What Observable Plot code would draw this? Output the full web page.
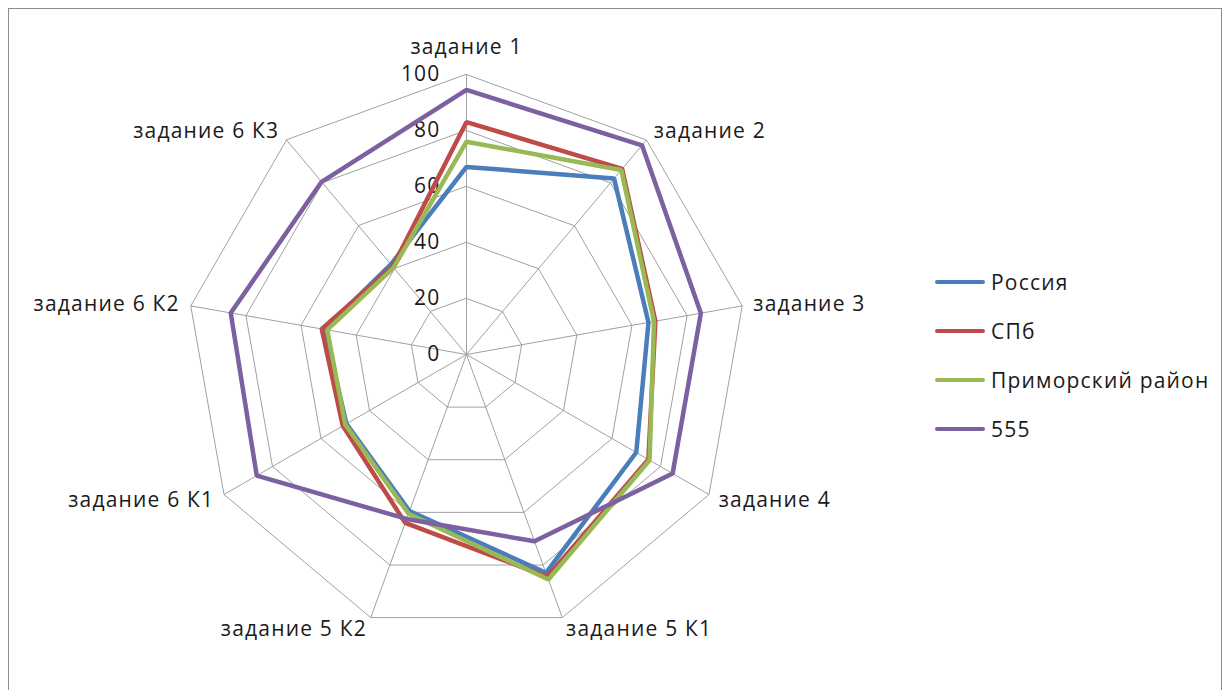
<!DOCTYPE html>
<html>
<head>
<meta charset="utf-8">
<script src="https://cdn.jsdelivr.net/npm/d3@7"></script>
<script src="https://cdn.jsdelivr.net/npm/@observablehq/plot@0.6"></script>
<style>
  html, body { margin: 0; padding: 0; background: #fff; width: 1230px; height: 690px; overflow: hidden; }
  #frame { position: absolute; left: 8px; top: 8px; width: 1214px; height: 700px; border: 1px solid #8c8c8c; box-sizing: border-box; }
  #chart { position: absolute; left: 0; top: 0; }
  #legend { position: absolute; left: 935px; top: 257px; font-family: "Open Sans", sans-serif; font-size: 21px; color: #1a1a1a; letter-spacing: 1.2px; }
  .item { display: flex; align-items: center; height: 49px; }
  .sw { width: 50px; height: 4px; border-radius: 2px; margin-right: 6px; }
</style>
</head>
<body>
<div id="frame"></div>
<div id="chart"></div>
<div id="legend"></div>
<script>
const categories = ["задание 1", "задание 2", "задание 3", "задание 4", "задание 5 К1", "задание 5 К2", "задание 6 К1", "задание 6 К2", "задание 6 К3"];
const seriesNames = ["Россия", "СПб", "Приморский район", "555"];
const russia    = [67,   82,   66,   70,   83,   59.5, 49.5, 51.5, 42];
const spb       = [83,   86.5, 68.5, 75,   84.5, 64,   51,   52.5, 41];
const primorsky = [76,   86,   68,   75.5, 85.5, 60.5, 50,   50.5, 40.5];
const s555      = [94.5, 97.5, 85,   85,   71,   62.5, 86.5, 85.5, 80.5];
const tickValues = [0, 20, 40, 60, 80, 100];
const colors = ["#4A7EBB", "#BE4B48", "#98B954", "#7D60A0"];

const seriesValues = [russia, spb, primorsky, s555];
const n = categories.length;
const angle = i => (2 * Math.PI * i) / n;
const px = (v, i) => v * Math.sin(angle(i));
const py = (v, i) => v * Math.cos(angle(i));

const rows = [];
seriesNames.forEach((s, k) => {
  categories.forEach((c, i) => rows.push({series: s, cat: c, i, value: seriesValues[k][i]}));
});

const gridRows = [];
tickValues.filter(t => t > 0).forEach(t => {
  categories.forEach((c, i) => gridRows.push({level: t, i}));
});

const catRows = categories.map((c, i) => ({cat: c, i}));
const tickRows = tickValues.map(v => ({v, label: String(v)}));
const labelR = 104;
const font = {fontSize: 21, fontFamily: "Open Sans, sans-serif", fill: "#1a1a1a"};

const labelMark = (filter, opts) => Plot.text(catRows.filter(filter), {
  x: d => px(labelR, d.i),
  y: d => py(labelR, d.i),
  text: "cat",
  ...font,
  ...opts
});

const chart = Plot.plot({
  width: 930,
  height: 690,
  marginLeft: 186,
  marginRight: 184,
  marginTop: 74,
  marginBottom: 56,
  x: {domain: [-100, 100], axis: null},
  y: {domain: [-100, 100], axis: null},
  color: {domain: seriesNames, range: colors},
  style: {overflow: "visible", letterSpacing: "1.2px"},
  marks: [
    Plot.line(gridRows, {x: d => px(d.level, d.i), y: d => py(d.level, d.i), z: "level", curve: "linear-closed", stroke: "#a0a0a0", strokeWidth: 1}),
    Plot.link(catRows, {x1: () => 0, y1: () => 0, x2: d => px(100, d.i), y2: d => py(100, d.i), stroke: "#a0a0a0", strokeWidth: 1}),
    Plot.text(tickRows, {x: d => px(d.v, 0), y: "v", text: "label", textAnchor: "end", dx: -26, ...font}),
    Plot.line(rows, {x: d => px(d.value, d.i), y: d => py(d.value, d.i), z: "series", stroke: "series", curve: "linear-closed", strokeWidth: 4.5, strokeLinejoin: "miter"}),
    labelMark(d => d.i === 0, {textAnchor: "middle", lineAnchor: "bottom", dy: -9}),
    labelMark(d => d.i >= 1 && d.i <= 3, {textAnchor: "start", lineAnchor: "middle"}),
    labelMark(d => d.i === 4, {textAnchor: "start", lineAnchor: "top", dy: -7}),
    labelMark(d => d.i === 5, {textAnchor: "end", lineAnchor: "top", dy: -7}),
    labelMark(d => d.i >= 6, {textAnchor: "end", lineAnchor: "middle"})
  ]
});
document.getElementById("chart").appendChild(chart);

const legend = document.getElementById("legend");
seriesNames.forEach((s, k) => {
  const item = document.createElement("div");
  item.className = "item";
  const sw = document.createElement("div");
  sw.className = "sw";
  sw.style.background = colors[k];
  const t = document.createElement("span");
  t.textContent = s;
  item.appendChild(sw);
  item.appendChild(t);
  legend.appendChild(item);
});
</script>
</body>
</html>
